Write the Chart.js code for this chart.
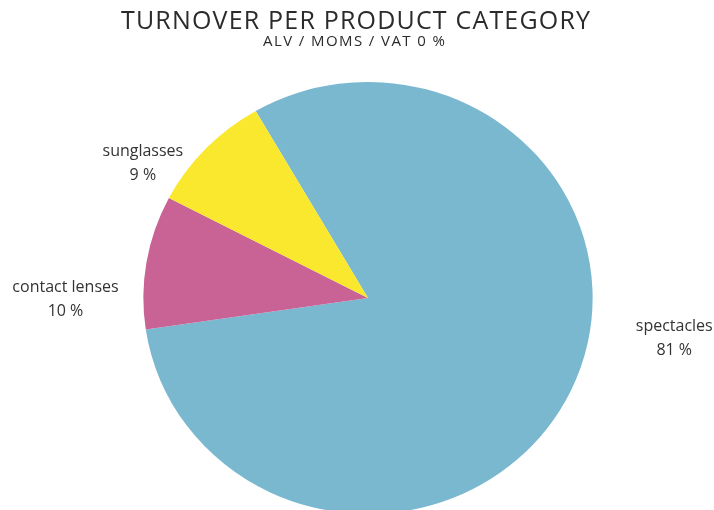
<!DOCTYPE html>
<html>
<head>
<meta charset="utf-8">
<script src="https://cdn.jsdelivr.net/npm/chart.js@4/dist/chart.umd.min.js"></script>
<style>
	html, body { margin: 0; padding: 0; background: #fff; overflow: hidden; }
	#wrap { width: 714px; height: 530px; }
</style>
</head>
<body>
<div id="wrap"><canvas id="turnover-chart" width="714" height="530"></canvas></div>
<script>
// data
var categories = ['spectacles', 'contact lenses', 'sunglasses'];
var shares = [81, 10, 9];
var shareLabels = ['81 %', '10 %', '9 %'];
var chartColors = ['#79b8cf', '#c96396', '#f9e82e'];

var titleText = 'TURNOVER PER PRODUCT CATEGORY';
var subtitleText = 'ALV / MOMS / VAT 0 %';

// label offsets from the outer edge of each slice (px)
var labelOffsets = [[104, -54], [-81, 37], [-63, 15]];

var stretchX = 1.04; // the original pie is a little wider than tall

function fitText(ctx, text, target) {
	ctx.letterSpacing = '0px';
	var w = ctx.measureText(text).width;
	var sp = (target - w) / (text.length - 1);
	ctx.letterSpacing = sp + 'px';
	return sp;
}

var ellipsePlugin = {
	id: 'ellipse',
	beforeDatasetsDraw: function (chart) {
		var a = chart.chartArea, ctx = chart.ctx;
		var cx = (a.left + a.right) / 2, cy = (a.top + a.bottom) / 2;
		ctx.save();
		ctx.translate(cx, cy);
		ctx.scale(stretchX, 1);
		ctx.translate(-cx, -cy);
	},
	afterDatasetsDraw: function (chart) {
		chart.ctx.restore();
	}
};

var textPlugin = {
	id: 'texts',
	afterDraw: function (chart) {
		var ctx = chart.ctx;
		ctx.save();
		ctx.fillStyle = '#2b2b2b';
		ctx.textAlign = 'left';
		ctx.textBaseline = 'middle';

		ctx.font = '400 25px "Open Sans"';
		fitText(ctx, titleText, 469);
		ctx.fillText(titleText, 121, 22);

		ctx.font = '400 15px "Open Sans"';
		fitText(ctx, subtitleText, 182);
		ctx.fillText(subtitleText, 263, 42);

		ctx.letterSpacing = '0px';
		ctx.textAlign = 'center';
		ctx.fillStyle = '#333';
		ctx.font = '400 16px "Open Sans"';
		var meta = chart.getDatasetMeta(0);
		meta.data.forEach(function (arc, i) {
			var p = arc.getProps(['x', 'y', 'startAngle', 'endAngle', 'outerRadius'], true);
			var mid = (p.startAngle + p.endAngle) / 2;
			var ex = p.x + Math.cos(mid) * p.outerRadius * stretchX;
			var ey = p.y + Math.sin(mid) * p.outerRadius;
			var lx = ex + labelOffsets[i][0];
			var ly = ey + labelOffsets[i][1];
			ctx.fillText(categories[i], lx, ly - 12);
			ctx.fillText(shareLabels[i], lx, ly + 12);
		});
		ctx.restore();
	}
};

new Chart('turnover-chart', {
	type: 'pie',
	data: {
		labels: categories,
		datasets: [
			{
				data: shares,
				backgroundColor: chartColors,
				borderWidth: 0,
				hoverOffset: 0
			}
		]
	},
	options: {
		responsive: false,
		animation: false,
		events: [],
		rotation: -30,
		layout: {
			padding: { top: 82, bottom: 16, left: 152, right: 130 }
		},
		plugins: {
			legend: { display: false },
			tooltip: { enabled: false },
			title: { display: false }
		}
	},
	plugins: [ellipsePlugin, textPlugin]
});
</script>
</body>
</html>
